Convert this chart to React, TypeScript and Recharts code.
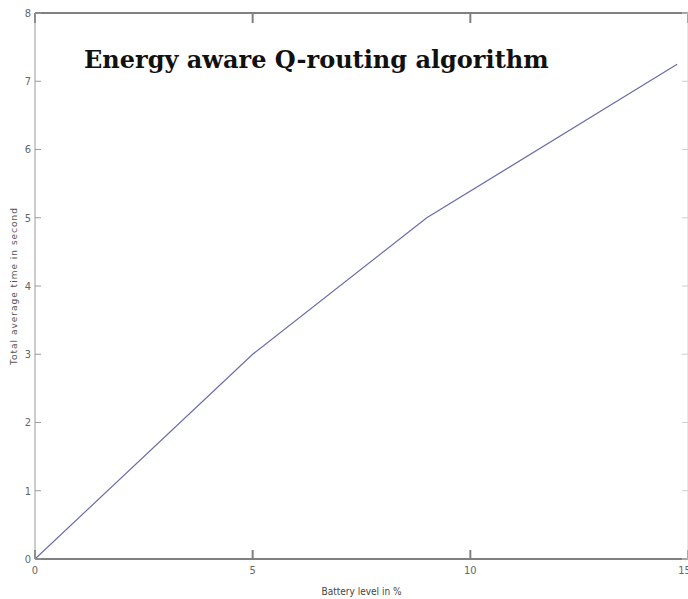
import { LineChart, Line, XAxis, YAxis, Label } from "recharts";

const batteryLevel = [0, 5, 9, 14.75];
const avgTime = [0, 3, 5, 7.25];
const xTicks = [0, 5, 10, 15];
const yTicks = [0, 1, 2, 3, 4, 5, 6, 7, 8];

const data = batteryLevel.map((x, i) => ({ x, t: avgTime[i] }));

const axisColor = "#808080";
const tickFont = {
    fontSize: 11,
    fill: "#666",
    fontFamily: "'Liberation Sans Narrow', 'DejaVu Sans Condensed', sans-serif",
};

export default function App() {
    return (
        <div
            style={{
                position: "absolute",
                left: 0,
                top: 0,
                width: 688,
                height: 599,
                background: "#fff",
                overflow: "hidden",
            }}
        >
            <LineChart
                width={690}
                height={599}
                data={data}
                margin={{ top: 3, right: 1, left: 0, bottom: 0 }}
            >
                <XAxis
                    dataKey="x"
                    type="number"
                    domain={[0, 15]}
                    ticks={xTicks}
                    height={40}
                    stroke={axisColor}
                    strokeWidth={2}
                    tickSize={-9}
                    tickMargin={16}
                    tick={tickFont}
                >
                    <Label
                        value="Battery level in %"
                        position="insideBottom"
                        offset={4}
                        style={{ ...tickFont, fontSize: 10, fill: "#444" }}
                    />
                </XAxis>
                {/* MATLAB style box: top and right axes, ticks only */}
                <XAxis
                    xAxisId="top"
                    dataKey="x"
                    orientation="top"
                    type="number"
                    domain={[0, 15]}
                    ticks={xTicks}
                    height={10}
                    stroke={axisColor}
                    strokeWidth={2}
                    tickSize={-10}
                    tickFormatter={() => ""}
                />
                <YAxis
                    type="number"
                    domain={[0, 8]}
                    ticks={yTicks}
                    width={35}
                    stroke="#9a9a9a"
                    tickSize={-6}
                    tickMargin={10}
                    tick={tickFont}
                >
                    <Label
                        value="Total average time in second"
                        angle={-90}
                        position="insideLeft"
                        offset={14}
                        style={{
                            fontSize: 9,
                            fill: "#555",
                            letterSpacing: 1,
                            fontFamily: "'DejaVu Sans', sans-serif",
                            textAnchor: "middle",
                        }}
                    />
                </YAxis>
                <YAxis
                    yAxisId="right"
                    orientation="right"
                    type="number"
                    domain={[0, 8]}
                    ticks={yTicks}
                    width={1}
                    stroke="#cfcfcf"
                    tickSize={-6}
                    tickFormatter={() => ""}
                />
                <Line
                    xAxisId="top"
                    yAxisId="right"
                    type="linear"
                    dataKey="t"
                    stroke="none"
                    dot={false}
                    activeDot={false}
                    legendType="none"
                    isAnimationActive={false}
                />
                <Line
                    type="linear"
                    dataKey="t"
                    stroke="#6c6cae"
                    strokeWidth={1.2}
                    dot={false}
                    isAnimationActive={false}
                />
            </LineChart>
            <div
                style={{
                    position: "absolute",
                    left: 84,
                    top: 45,
                    fontFamily: "'DejaVu Serif', serif",
                    fontWeight: "bold",
                    fontSize: 24,
                    color: "#111",
                    whiteSpace: "nowrap",
                }}
            >
                Energy aware Q-routing algorithm
            </div>
        </div>
    );
}
